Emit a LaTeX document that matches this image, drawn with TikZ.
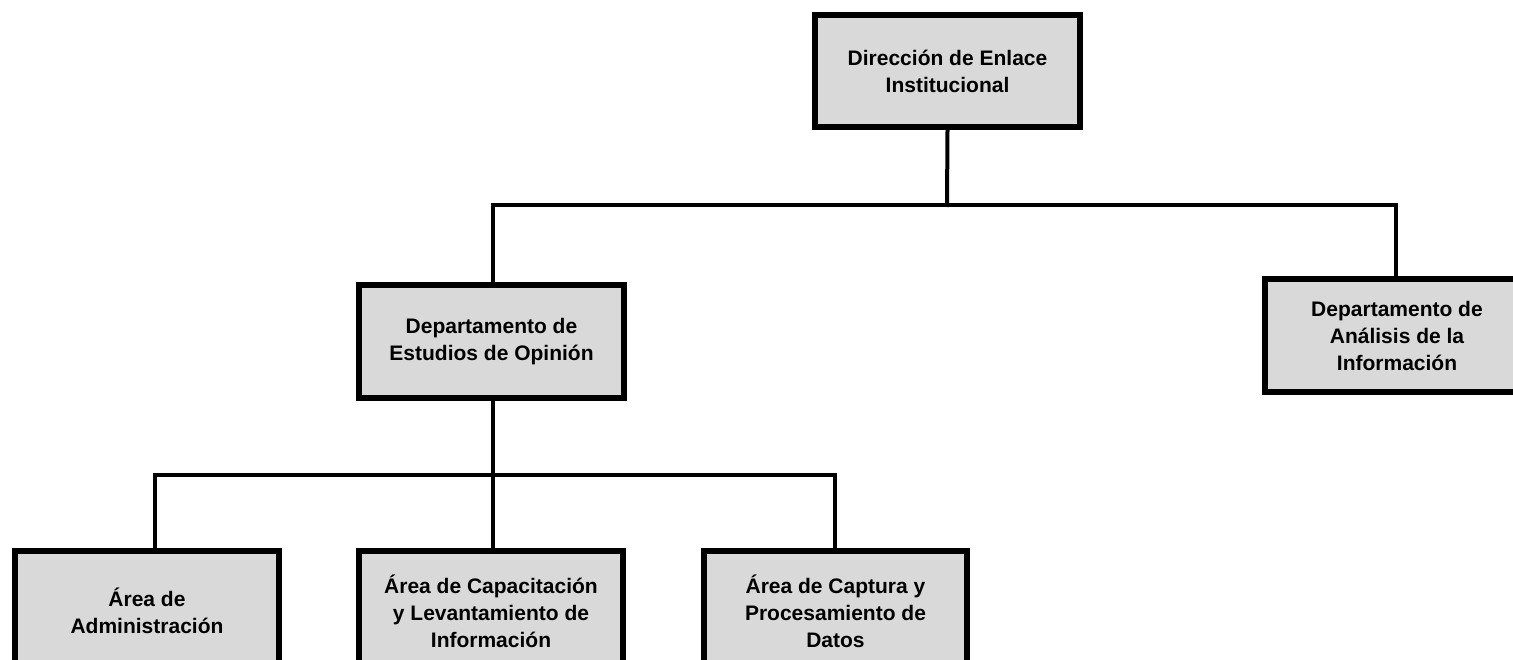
\documentclass[tikz,border=0pt]{standalone}
\usepackage{fontspec}
\setmainfont{Liberation Sans}
\definecolor{boxgray}{RGB}{217,217,217}
\begin{document}
\begin{tikzpicture}[x=1pt,y=-1pt,
  orgbox/.style={draw=black, line width=6pt, fill=boxgray, rectangle,
    inner sep=0pt, align=center, font=\fontsize{21}{27}\selectfont\bfseries},
  conn/.style={draw=black, line width=4pt, line cap=rect}]
\useasboundingbox (0,0) rectangle (1513,660);
\clip (0,0) rectangle (1513,660);
\node[orgbox, minimum width=265pt, minimum height=112pt] (dir) at (947.5,71) {Dirección de Enlace\\Institucional};
\node[orgbox, minimum width=265pt, minimum height=113pt] (est) at (491.5,341.5) {Departamento de\\Estudios de Opinión};
\node[orgbox, minimum width=264pt, minimum height=113pt] (ana) at (1397,335.5) {Departamento de\\Análisis de la\\Información};
\node[orgbox, minimum width=264pt, minimum height=120pt] (adm) at (147,611) {Área de\\Administración};
\node[orgbox, minimum width=264pt, minimum height=120pt] (cap) at (491,611) {Área de Capacitación\\y Levantamiento de\\Información};
\node[orgbox, minimum width=263pt, minimum height=120pt] (dat) at (835.5,611) {Área de Captura y\\Procesamiento de\\Datos};
\coordinate (bus1) at (947,205);
\coordinate (bus2) at (493,475);
\draw[conn] (dir.south) -- (bus1);
\draw[conn] ([xshift=1.5pt]est.north) |- (bus1) -| ([xshift=-1pt]ana.north);
\draw[conn] ([xshift=1.5pt]est.south) -- (bus2);
\draw[conn] ([xshift=8pt]adm.north) |- (bus2) -| ([xshift=-0.5pt]dat.north);
\draw[conn] (bus2) -- ([xshift=2pt]cap.north);
\end{tikzpicture}
\end{document}
